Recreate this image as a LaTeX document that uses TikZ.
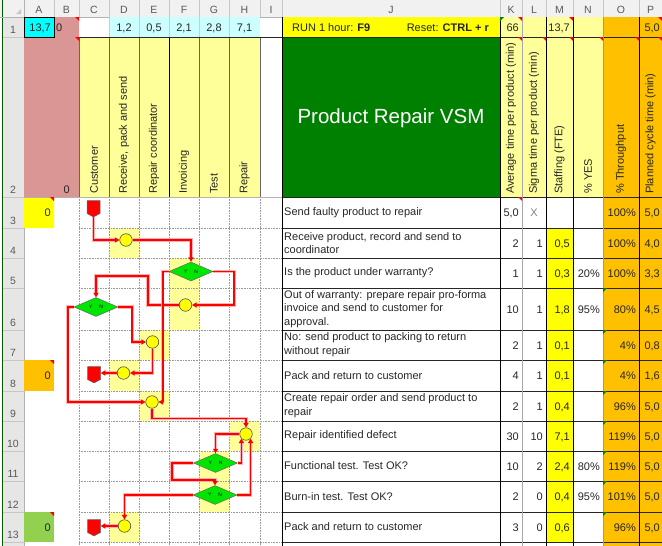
\documentclass[tikz,border=0pt]{standalone}
\usepackage{fontspec}
\setmainfont{Liberation Sans}
\usetikzlibrary{arrows.meta,positioning,shapes.geometric,shapes.symbols,calc}
\definecolor{cellcyan}{HTML}{00FFFF}
\definecolor{paleblue}{HTML}{CCFFFF}
\definecolor{rosebg}{HTML}{DA9694}
\definecolor{paleyel}{HTML}{FFFF99}
\definecolor{hotyel}{HTML}{FFFF00}
\definecolor{vsmgreen}{HTML}{008000}
\definecolor{ambr}{HTML}{FFC000}
\definecolor{limegrn}{HTML}{92D050}
\definecolor{decgreen}{HTML}{00E600}
\definecolor{hdrgray}{HTML}{E6E6E6}
\definecolor{ink}{HTML}{262626}
\newcommand{\cellfont}{\fontsize{11}{13.7}\selectfont}
\newcommand{\hdrfont}{\fontsize{10.5}{12}\selectfont}
\newcommand{\rtick}[2]{\fill[red] (#1,#2) -- ++(-4,0) -- ++(4,4) -- cycle;}
\newcommand{\gtick}[2]{\fill[green!50!black] (#1,#2) -- ++(4,0) -- ++(-4,4) -- cycle;}
\tikzset{
  colhead/.style={font=\hdrfont,text=black!65,inner sep=0pt},
  numtxt/.style={font=\cellfont,text=ink,inner sep=0pt,anchor=east,
                 text height=8pt,text depth=0pt},
  rowtxt/.style={font=\cellfont,text=ink,inner sep=0pt,anchor=west,align=left},
  vtxt/.style={font=\cellfont,text=ink,rotate=90,anchor=west,inner sep=0pt},
  gridln/.style={gray!80,densely dotted,line width=0.6pt},
  activity/.style={circle,draw=black!70,fill=hotyel,line width=0.6pt,
                   minimum size=12.5pt,inner sep=0pt},
  decision/.style={diamond,draw=black!60,fill=decgreen,line width=0.5pt,
                   minimum width=44pt,minimum height=19pt,inner sep=0pt,
                   font=\fontsize{5}{5}\selectfont},
  offpage/.style={signal,signal to=south,signal pointer angle=124,
                  draw=black!60,fill=red,line width=0.5pt,
                  minimum width=13pt,minimum height=13pt,inner sep=0pt},
  flowarr/.style={-{Triangle[length=4.5pt,width=5pt]},draw=red,line width=1.6pt,
                  preaction={draw=red!30,line width=3.4pt}}
}

\begin{document}
\begin{tikzpicture}[x=1pt,y=-1pt]
  \useasboundingbox (0,0) rectangle (662,546);
  % sheet headers
  \fill[hdrgray!55] (0,0) rectangle (662,17);
  \fill[hdrgray] (3,17) rectangle (24,546);
  \fill[gray!45] (21,9) -- (21,14) -- (16,14) -- cycle;
  \draw[green!35!black,line width=0.8pt] (2.5,0) -- (2.5,546);
  \draw[gray!60] (0,17) -- (662,17);
  \draw[gray!60] (24,0) -- (24,546);
  \foreach \c/\xa/\xb in {A/24/54,B/54/79,C/79/109,D/109/139,E/139/169,F/169/199,
      G/199/229,H/229/260,I/260/282,J/282/500,K/500/522,L/522/546,M/546/573,
      N/573/603,O/603/639,P/639/662}{
    \draw[gray!45] (\xb,0) -- (\xb,17);
    \node[colhead] at ({(\xa+\xb)/2},10) {\c};
  }
  \foreach \r/\yb in {1/37,2/197,3/228,4/258,5/288,6/330,7/360,8/391,9/421,
      10/451,11/481,12/512,13/542}{
    \draw[gray!45] (3,\yb) -- (24,\yb);
    \node[colhead,anchor=base] at (13,\yb-4) {\r};
  }

  % cell colours
  \fill[cellcyan] (24,17) rectangle (54,37);
  \fill[rosebg] (54,17) rectangle (79,37) (24,37) rectangle (79,197);
  \fill[paleblue] (109,17) rectangle (260,37);
  \fill[hotyel] (282,17) rectangle (500,37);
  \fill[paleyel] (500,17) rectangle (603,197) (79,37) rectangle (260,197);
  \fill[ambr] (603,17) rectangle (662,546);
  \fill[vsmgreen] (282,37) rectangle (500,197);
  \fill[hotyel] (24,197) rectangle (54,228) (546,228) rectangle (573,542);
  \fill[ambr] (24,360) rectangle (54,391);
  \fill[limegrn] (24,512) rectangle (54,542);
  \foreach \xa/\ya/\xb/\yb in {109/228/139/258,169/258/199/330,139/330/169/360,
      109/360/139/391,139/391/169/421,229/421/260/451,199/451/229/512,
      109/512/139/542}{
    \fill[paleyel] (\xa,\ya) rectangle (\xb,\yb);
  }

  % grid of the flow area
  \foreach \x in {79,109,139,169,199,229,260}{
    \draw[gridln] (\x,197) -- (\x,546);
    \draw[black!60] (\x,37) -- (\x,197);
  }
  \foreach \y in {228,258,288,330,360,391,421,451,481,512,542}{
    \draw[gridln] (79,\y) -- (282,\y);
    \draw[black!85,line width=0.7pt] (282,\y) -- (662,\y);
  }
  \foreach \x in {134,164,194,224,254}{
    \draw[gray!40] (\x-25,17) -- (\x-25,37);
  }
  \draw[black,line width=0.9pt] (169,37) -- (169,197);
  \draw[gray!60] (24,197) -- (282,197);
  \draw[black!85,line width=0.7pt] (282,197) -- (662,197);
  \draw[black!85,line width=0.7pt] (79,37) -- (662,37);
  \draw[black,line width=0.7pt] (24,17) rectangle (54,37);
  \foreach \x/\c in {282/black,500/black,522/gray!70,546/black,573/black,
      603/gray!80,639/black}{
    \draw[\c,line width=0.7pt] (\x,17) -- (\x,546);
  }

  % comment markers
  \rtick{79}{17} \rtick{79}{37} \rtick{54}{197} \rtick{54}{360} \rtick{54}{512}
  \rtick{522}{17} \rtick{573}{17} \rtick{662}{17} \rtick{522}{197}
  \foreach \x in {522,546,573,603,639,662}{\rtick{\x}{37}}
  \gtick{500}{17}
  \foreach \y in {288,330,360,391,421,451,481,512}{\gtick{603}{\y}}

  % row 1
  \node[numtxt] at (51,27) {13,7};
  \node[numtxt,anchor=west] at (56,27) {0};
  \foreach \x/\v in {124/{1,2},154/{0,5},184/{2,1},214/{2,8},244.5/{7,1}}{
    \node[numtxt,anchor=center] at (\x,27) {\v};
  }
  \node[numtxt,anchor=west] (run) at (292,27) {RUN 1 hour: \textbf{F9}};
  \node[numtxt] (reset) at (489,27) {Reset: \textbf{CTRL + r}};
  \node[numtxt] at (519,27) {66};
  \node[numtxt] at (570,27) {13,7};
  \node[numtxt] at (660,27) {5,0};

  % row 2
  \node[numtxt] at (70,189) {0};
  \node[font=\fontsize{20.5}{24}\selectfont,text=white] (title) at (391,118) {Product Repair VSM};
  \foreach \x/\t in {94/Customer,124/{Receive, pack and send},154/Repair coordinator,
      184/Invoicing,214/Test,244.5/Repair,511/Average time per product (min),
      534/Sigma time per product (min),559.5/Staffing (FTE),588/\% YES,
      621/\% Throughput,650.5/Planned cycle time (min)}{
    \node[vtxt] at (\x,194) {\t};
  }

  % column A counters
  \node[numtxt] at (51,212.5) {0};
  \node[numtxt] at (51,375.5) {0};
  \node[numtxt] at (51,527) {0};

  % table rows
  \foreach \yc/\t/\k/\l/\m/\n/\o/\p in {
      212.5/{Send faulty product to repair}/{5,0}/{}/{}/{}/100\%/{5,0},
      243/{Receive product, record and send to\\coordinator}/2/1/{0,5}/{}/100\%/{4,0},
      273/{Is the product under warranty?}/1/1/{0,3}/20\%/100\%/{3,3},
      309/{Out of warranty: prepare repair pro-forma\\invoice and send to customer for\\approval.}/10/1/{1,8}/95\%/80\%/{4,5},
      345/{No: send product to packing to return\\without repair}/2/1/{0,1}/{}/4\%/{0,8},
      375.5/{Pack and return to customer}/4/1/{0,1}/{}/4\%/{1,6},
      406/{Create repair order and send product to\\repair}/2/1/{0,4}/{}/96\%/{5,0},
      436/{Repair identified defect}/30/10/{7,1}/{}/119\%/{5,0},
      466/{Functional test. Test OK?}/10/2/{2,4}/80\%/119\%/{5,0},
      496.5/{Burn-in test. Test OK?}/2/0/{0,4}/95\%/101\%/{5,0},
      527/{Pack and return to customer}/3/0/{0,6}/{}/96\%/{5,0}}{
    \node[rowtxt] at (284,\yc) {\t};
    \node[numtxt] at (519,\yc) {\k};
    \node[numtxt] at (543,\yc) {\l};
    \node[numtxt] at (570,\yc) {\m};
    \node[numtxt] at (600,\yc) {\n};
    \node[numtxt] at (636,\yc) {\o};
    \node[numtxt] at (660,\yc) {\p};
  }
  \node[numtxt,anchor=center,text=gray] at (534,212.5) {X};

  % flow shapes
  \node[offpage] (src) at (93.5,207) {};
  \node[activity] (recv) at (126,240) {};
  \node[decision] (warranty) at (191,271.5) {Y\hspace{7pt}N};
  \node[activity] (proforma) at (185.5,305) {};
  \node[decision] (approve) at (96,307) {Y\hspace{7pt}N};
  \node[activity] (norepair) at (152.5,342) {};
  \node[activity] (packA) at (123.5,373) {};
  \node[offpage] (backA) at (94,373) {};
  \node[activity] (order) at (152,402) {};
  \node[activity] (repair) at (246,434) {};
  \node[decision] (functest) at (215.5,463) {Y\hspace{7pt}N};
  \node[decision] (burnin) at (215,495) {Y\hspace{7pt}N};
  \node[activity] (packB) at (124.5,526) {};
  \node[offpage] (backB) at (94,526) {};

  % flow connectors
  \draw[flowarr] (src.south) |- (recv.west);
  \draw[flowarr] (recv.east) -| (warranty.north);
  \draw[flowarr] (warranty.east) -- ++(21,0) |- (proforma.east);
  \draw[flowarr] (proforma.west) -| (148,276) -| (approve.north);
  \draw[flowarr] (approve.east) -- ++(14,0) |- (norepair.west);
  \draw[flowarr] (approve.west) -- ++(-6,0) |- (order.west);
  \draw[flowarr] (warranty.west) -- ++(-6,0) |- (order.east);
  \draw[flowarr] (norepair.south) |- (packA.east);
  \draw[flowarr] (packA.west) -- (packA.west -| backA.east);
  \draw[flowarr] (order.south) -- ++(0,10) -| (repair.north);
  \draw[flowarr] (repair.west) -| (functest.north);
  \draw[flowarr] (functest.east) -| (repair.south west);
  \draw[flowarr] (functest.west) -| (172,480) -| (burnin.north);
  \draw[flowarr] (burnin.east) -| (repair.south east);
  \draw[flowarr] (burnin.west) -| (packB.north);
  \draw[flowarr] (packB.west) -- (packB.west -| backB.east);
\end{tikzpicture}
\end{document}
